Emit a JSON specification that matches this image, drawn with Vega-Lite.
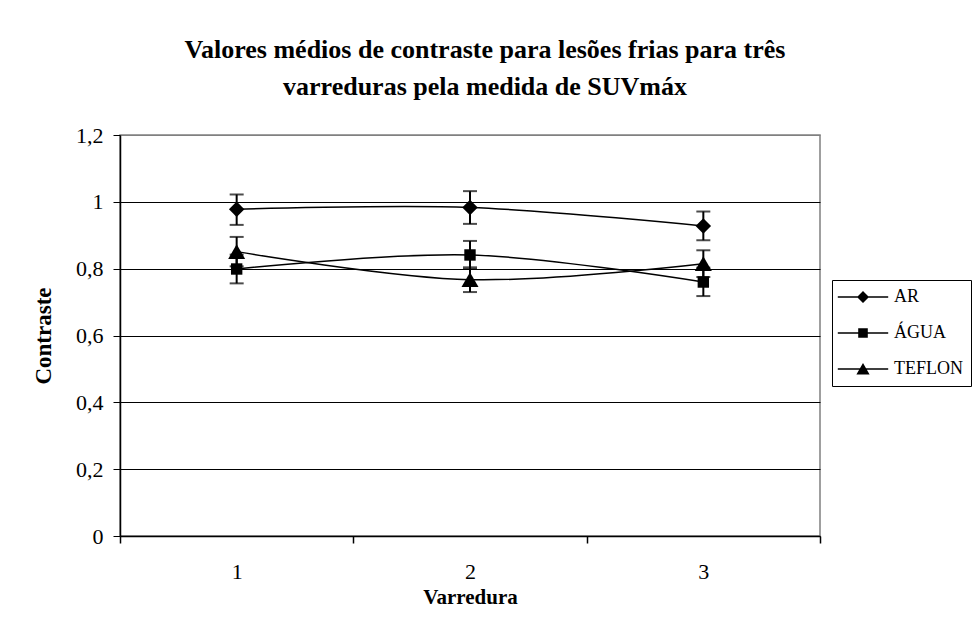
{
  "$schema": "https://vega.github.io/schema/vega-lite/v6.json",
  "width": 700,
  "height": 401,
  "autosize": {"type": "none"},
  "padding": {"left": 120, "top": 135, "right": 155, "bottom": 83},
  "background": "white",
  "config": {
    "font": "Liberation Serif",
    "view": {"stroke": "#808080", "strokeWidth": 1.5}
  },
  "title": {
    "text": ["Valores médios de contraste para lesões frias para três", "varreduras pela medida de SUVmáx"],
    "font": "Liberation Serif",
    "fontSize": 26,
    "fontWeight": "bold",
    "lineHeight": 37,
    "anchor": "middle",
    "dx": 15,
    "offset": 24,
    "color": "black"
  },
  "data": {
    "values": [
      {"Varredura": 1, "serie": "AR", "contraste": 0.978, "lo": 0.931, "hi": 1.022},
      {"Varredura": 2, "serie": "AR", "contraste": 0.983, "lo": 0.934, "hi": 1.032},
      {"Varredura": 3, "serie": "AR", "contraste": 0.928, "lo": 0.885, "hi": 0.971},
      {"Varredura": 1, "serie": "ÁGUA", "contraste": 0.799, "lo": 0.756, "hi": 0.842},
      {"Varredura": 2, "serie": "ÁGUA", "contraste": 0.841, "lo": 0.799, "hi": 0.883},
      {"Varredura": 3, "serie": "ÁGUA", "contraste": 0.760, "lo": 0.718, "hi": 0.803},
      {"Varredura": 1, "serie": "TEFLON", "contraste": 0.851, "lo": 0.807, "hi": 0.895},
      {"Varredura": 2, "serie": "TEFLON", "contraste": 0.767, "lo": 0.730, "hi": 0.804},
      {"Varredura": 3, "serie": "TEFLON", "contraste": 0.815, "lo": 0.775, "hi": 0.855}
    ]
  },
  "encoding": {
    "x": {
      "field": "Varredura",
      "type": "quantitative",
      "scale": {"domain": [0.5, 3.5], "nice": false, "zero": false},
      "axis": {
        "title": "Varredura",
        "titleFont": "Liberation Serif",
        "titleFontSize": 21,
        "titleFontWeight": "bold",
        "titleColor": "black",
        "titlePadding": 4,
        "values": [0.5, 1, 1.5, 2, 2.5, 3, 3.5],
        "labelExpr": "datum.value % 1 === 0 ? format(datum.value, 'd') : ''",
        "labelFont": "Liberation Serif",
        "labelFontSize": 22,
        "labelColor": "black",
        "labelPadding": 18,
        "grid": false,
        "domainColor": "black",
        "domainWidth": 1.5,
        "tickColor": "black",
        "tickWidth": 1.5,
        "tickSize": 7,
        "tickOpacity": {"condition": {"test": "datum.value % 1 !== 0", "value": 1}, "value": 0}
      }
    },
    "y": {
      "field": "contraste",
      "type": "quantitative",
      "scale": {"domain": [0, 1.2], "nice": false},
      "axis": {
        "title": "Contraste",
        "titleFont": "Liberation Serif",
        "titleFontSize": 23,
        "titleFontWeight": "bold",
        "titleColor": "black",
        "titlePadding": 20,
        "values": [0, 0.2, 0.4, 0.6, 0.8, 1, 1.2],
        "format": "~g",
        "labelExpr": "replace(datum.label, '.', ',')",
        "labelFont": "Liberation Serif",
        "labelFontSize": 22,
        "labelColor": "black",
        "labelPadding": 10,
        "grid": true,
        "gridColor": {"condition": {"test": "datum.value >= 1.2", "value": "#808080"}, "value": "black"},
        "gridWidth": 1,
        "domainColor": "black",
        "domainWidth": 1.5,
        "tickColor": "black",
        "tickWidth": 1,
        "tickSize": 7
      }
    }
  },
  "layer": [
    {
      "mark": {"type": "line", "color": "black", "strokeWidth": 1.5, "interpolate": "catmull-rom"},
      "encoding": {"detail": {"field": "serie", "type": "nominal"}}
    },
    {
      "mark": {"type": "rule", "color": "black", "strokeWidth": 2},
      "encoding": {
        "y": {"field": "lo", "type": "quantitative"},
        "y2": {"field": "hi"}
      }
    },
    {
      "mark": {"type": "tick", "orient": "horizontal", "color": "black", "size": 14, "thickness": 2},
      "encoding": {"y": {"field": "lo", "type": "quantitative"}}
    },
    {
      "mark": {"type": "tick", "orient": "horizontal", "color": "black", "size": 14, "thickness": 2},
      "encoding": {"y": {"field": "hi", "type": "quantitative"}}
    },
    {
      "transform": [{"filter": "datum.serie === 'AR'"}],
      "mark": {"type": "point", "shape": "diamond", "filled": true, "color": "black", "opacity": 1, "size": 240}
    },
    {
      "transform": [{"filter": "datum.serie === 'ÁGUA'"}],
      "mark": {"type": "point", "shape": "square", "filled": true, "color": "black", "opacity": 1, "size": 130}
    },
    {
      "transform": [{"filter": "datum.serie === 'TEFLON'"}],
      "mark": {"type": "point", "shape": "triangle-up", "filled": true, "color": "black", "opacity": 1, "size": 290}
    },
    {
      "transform": [{"filter": "datum.contraste > 10"}],
      "mark": {"type": "point", "filled": true, "color": "black", "opacity": 1, "size": 144},
      "encoding": {
        "shape": {
          "field": "serie",
          "type": "nominal",
          "scale": {
            "domain": ["AR", "ÁGUA", "TEFLON"],
            "range": [
              "M-4.2,-0.13H4.2V0.13H-4.2ZM0,-1L1,0L0,1L-1,0Z",
              "M-4.2,-0.13H4.2V0.13H-4.2ZM-0.8,-0.8H0.8V0.8H-0.8Z",
              "M-4.2,-0.13H4.2V0.13H-4.2ZM0,-1L1.1,0.9L-1.1,0.9Z"
            ]
          },
          "legend": {
            "title": null,
            "orient": "none",
            "legendX": 712,
            "legendY": 145,
            "strokeColor": "black",
            "fillColor": "white",
            "padding": 8,
            "symbolOffset": 14,
            "labelOffset": 22,
            "rowPadding": 18,
            "labelFont": "Liberation Serif",
            "labelFontSize": 18,
            "labelColor": "black",
            "symbolSize": 144,
            "symbolFillColor": "black",
            "symbolStrokeColor": "black",
            "symbolOpacity": 1
          }
        }
      }
    }
  ]
}
